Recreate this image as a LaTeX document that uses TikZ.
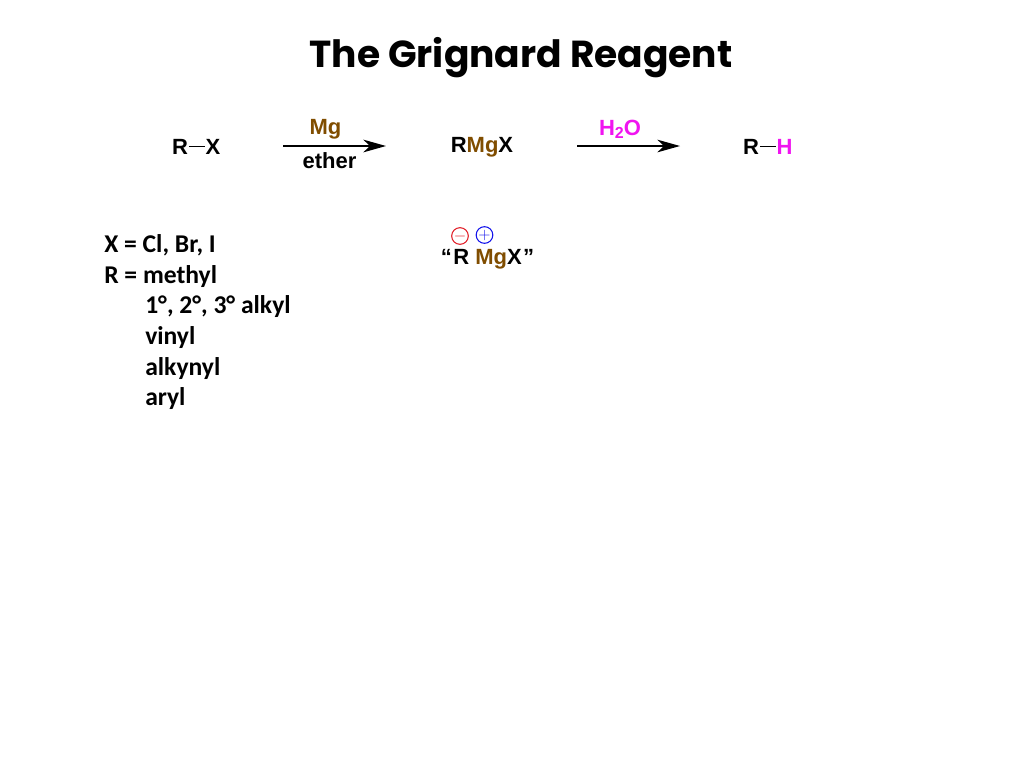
\documentclass[tikz,border=0pt]{standalone}
\usepackage{fontspec}
\setmainfont{Liberation Sans}
\newfontfamily\titlefont{Poppins}
\newfontfamily\listfont{Carlito}
\usetikzlibrary{arrows.meta,positioning}
\definecolor{mgbrown}{RGB}{128,77,0}
\definecolor{hmagenta}{RGB}{240,20,240}
\definecolor{minusred}{RGB}{225,30,40}
\definecolor{plusblue}{RGB}{20,20,235}
\tikzset{
  chem/.style={inner sep=0pt,anchor=base,font=\fontsize{16.5}{18}\selectfont\bfseries},
  mg/.style={chem,text=mgbrown},
  water/.style={chem,text=hmagenta},
  item/.style={inner sep=0pt,anchor=base west,font=\fontsize{19.2}{21}\selectfont\listfont\bfseries},
  bond/.style={draw=black,line width=0.7pt,shorten <=0.5pt,shorten >=0.5pt},
  rxn/.style={-{Stealth[length=17pt,width=9.5pt,inset=5pt]},draw=black,line width=1pt},
  charge/.style={circle,draw=#1,text=#1,line width=0.8pt,minimum size=12.5pt,inner sep=0pt,font=\fontsize{12}{12}\selectfont}
}
\begin{document}
\begin{tikzpicture}[x=0.75pt,y=-0.75pt]
\useasboundingbox (0,0) rectangle (1024,768);
\node[inner sep=0pt,anchor=base,font=\fontsize{28.2}{32}\selectfont\titlefont\bfseries] (title) at (521,67) {The Grignard Reagent};
% first reaction
\node[chem] (rxr) at (180,154) {R};
\node[chem] (rxx) at (213,154) {X};
\draw[bond] (rxr.east)--(rxx.west);
\coordinate (mga) at (283,146);
\coordinate (mgb) at (386,146);
\draw[rxn] (mga)--(mgb);
\node[mg] (mg) at (325.5,134) {Mg};
\node[chem] (ether) at (329.5,168) {ether};
\node[chem] (rmgx) at (482,152) {R\textcolor{mgbrown}{Mg}X};
% second reaction
\coordinate (ha) at (577,146);
\coordinate (hb) at (680,146);
\draw[rxn] (ha)--(hb);
\node[water] (water) at (620,135) {H\raisebox{-2.5pt}{\fontsize{12}{12}\selectfont 2}O};
\node[chem] (rhr) at (751,154) {R};
\node[water] (rhh) at (784.5,154) {H};
\draw[bond] (rhr.east)--(rhh.west);
% polarised form
\node[chem] (polar) at (487.5,264) {``\kern1pt R \textcolor{mgbrown}{Mg}X\kern1pt''};
\node[charge=minusred] (minus) at (460,236) {$-$};
\node[charge=plusblue] (plus) at (484.5,235) {$+$};
% list of groups
\node[item] (xlist) at (104,252.5) {X = Cl, Br, I};
\node[item] (rlist) at (104,283) {R = methyl};
\node[item] (alkyl) at (145,313.5) {1°, 2°, 3° alkyl};
\node[item] (vinyl) at (145,344.5) {vinyl};
\node[item] (alkynyl) at (145,375.5) {alkynyl};
\node[item] (aryl) at (145,405.5) {aryl};
\end{tikzpicture}
\end{document}
